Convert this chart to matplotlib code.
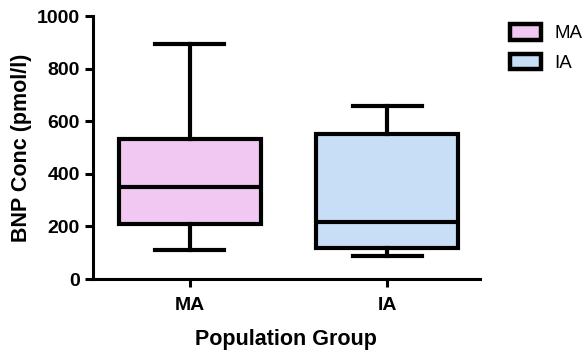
import matplotlib.pyplot as plt
from matplotlib.patches import Patch

plt.rcParams['font.family'] = ['Liberation Sans', 'DejaVu Sans']

# Box stats
groups = ["MA", "IA"]
whislo = [110, 87]
q1 = [209, 120]
med = [350, 217]
q3 = [532, 550]
whishi = [895, 658]
colors = ["#f0c8f2", "#c8def6"]

stats = []
for i, g in enumerate(groups):
    stats.append({"label": g, "whislo": whislo[i], "q1": q1[i], "med": med[i],
                  "q3": q3[i], "whishi": whishi[i], "fliers": []})

fig = plt.figure(figsize=(5.88, 3.56), dpi=100)
ax = fig.add_axes([0.158, 0.216, 0.658, 0.739])

lw = 3.0
bp = ax.bxp(stats, positions=[1, 2], widths=0.72, patch_artist=True, showfliers=False,
            boxprops=dict(linewidth=lw, edgecolor="black"),
            medianprops=dict(linewidth=lw, color="black"),
            whiskerprops=dict(linewidth=lw, color="black"),
            capprops=dict(linewidth=lw, color="black"),
            capwidths=0.35)
for patch, c in zip(bp["boxes"], colors):
    patch.set_facecolor(c)

ax.set_xlim(0.508, 2.47)
ax.set_ylim(0, 1000)
ax.set_yticks([0, 200, 400, 600, 800, 1000])
ax.set_xticks([1, 2])
ax.set_xticklabels(groups, fontsize=14, fontweight="bold")
for lab in ax.get_yticklabels():
    lab.set_fontsize(14)
    lab.set_fontweight("bold")
ax.spines["top"].set_visible(False)
ax.spines["right"].set_visible(False)
ax.spines["left"].set_linewidth(2.2)
ax.spines["bottom"].set_linewidth(2.2)
ax.tick_params(width=2.2, length=6)
ax.tick_params(axis="x", pad=7)
ax.set_ylabel("BNP Conc (pmol/l)", fontsize=15.5, fontweight="bold", labelpad=3)
ax.set_xlabel("Population Group", fontsize=15.5, fontweight="bold", labelpad=11)

handles = [Patch(facecolor=c, edgecolor="black", linewidth=3.2) for c in colors]
fig.legend(handles, groups, loc="upper left", bbox_to_anchor=(0.868, 0.932),
           frameon=False, fontsize=13.5, handlelength=1.65, handleheight=0.9,
           labelspacing=0.6, handletextpad=0.7, borderpad=0, borderaxespad=0)

fig.savefig("out.png", dpi=100)
